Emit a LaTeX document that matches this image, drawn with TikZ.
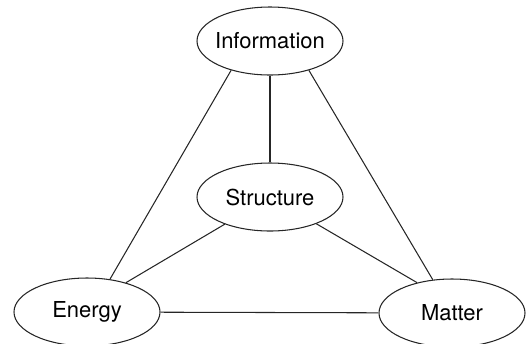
\documentclass[tikz,border=0pt]{standalone}
\usepackage{fontspec}
\setmainfont{TeX Gyre Heros}
\usetikzlibrary{shapes.geometric}

\begin{document}
\begin{tikzpicture}
	[every node/.style={ellipse, draw=black!85, line width=0.6pt, inner xsep=-2pt, inner ysep=0pt, minimum width=2.92cm, minimum height=1.36cm, font=\fontsize{12.5}{15}\selectfont}]
	\useasboundingbox (0,0) rectangle (10.6,-6.86);
	\node (inf) at (5.4,-0.82) {Information};
	\node (str) at (5.4,-3.94) {Structure};
	\node (ene) at (1.74,-6.24) {Energy};
	\node (mat) at (9.04,-6.26) {Matter};
	
	\draw[black!85, line width=0.6pt] (inf) -- (str);
	\draw[black!85, line width=0.6pt] (inf.217) -- (ene.55);
	\draw[black!85, line width=0.6pt] (inf.323) -- (mat.120);
	\draw[black!85, line width=0.6pt] (str.211) -- (ene.37);
	\draw[black!85, line width=0.6pt] (str.330) -- (mat.139);
	\draw[black!85, line width=0.6pt] (ene) -- (mat);
\end{tikzpicture}
\end{document}
